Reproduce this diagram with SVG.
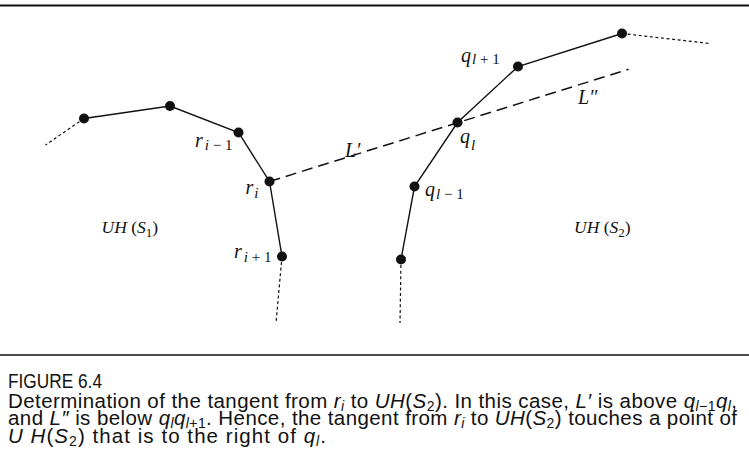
<svg xmlns="http://www.w3.org/2000/svg" width="749" height="465" viewBox="0 0 749 465">
<style>
.rule{stroke:#111;fill:none}
.edge{stroke:#111;stroke-width:1.4;fill:none;stroke-linecap:round}
.ext{stroke:#111;stroke-width:1.2;fill:none;stroke-dasharray:3 2.6}
.tan{stroke:#111;stroke-width:1.5;fill:none;stroke-dasharray:11 6}
.node{fill:#111}
.lbl{font-family:"Liberation Serif","Times New Roman",serif;font-style:italic;font-size:20px;fill:#111}
.lsub{font-size:15px}
.rm{font-style:normal}
.reg{font-family:"Liberation Serif","Times New Roman",serif;font-size:17.5px;fill:#111}
.it{font-style:italic}
.cap{font-family:"Liberation Sans",Arial,sans-serif;font-size:20.5px;fill:#111}
.ci{font-style:italic}
.cs{font-size:14px}
</style>
<rect width="749" height="465" fill="#fff"/>
<line class="rule" x1="0" y1="5.5" x2="749" y2="5.5" stroke-width="2"/>
<line class="rule" x1="0" y1="355" x2="749" y2="355" stroke-width="1.5"/>
<g id="connectors">
<polyline class="edge" points="84,118.5 170,106 238.5,132.5 269.5,181.5 282,256.5"/>
<polyline class="edge" points="401,259.5 414.5,186.5 457.5,122.5 518,66.5 622,33.5"/>
<line class="ext" x1="84" y1="118.5" x2="45.5" y2="145"/>
<line class="ext" x1="282" y1="256.5" x2="276" y2="323"/>
<line class="ext" x1="401" y1="259.5" x2="400" y2="323"/>
<line class="ext" x1="622" y1="33.5" x2="710" y2="43.5"/>
<line class="tan" x1="269.5" y1="181.5" x2="628.5" y2="69.3"/>
</g>
<g id="n-left-end"><circle class="node" cx="84" cy="118.5" r="5"/></g>
<g id="n-left-top"><circle class="node" cx="170" cy="106" r="5"/></g>
<g id="n-r-im1"><circle class="node" cx="238.5" cy="132.5" r="5"/><text class="lbl" x="195" y="146.5">r<tspan class="lsub" dx="2" dy="3">i <tspan class="rm">− 1</tspan></tspan></text></g>
<g id="n-r-i"><circle class="node" cx="269.5" cy="181.5" r="5"/><text class="lbl" x="245.5" y="194">r<tspan class="lsub" dx="1" dy="4">i</tspan></text></g>
<g id="n-r-ip1"><circle class="node" cx="282" cy="256.5" r="5"/><text class="lbl" x="234" y="258">r<tspan class="lsub" dx="2" dy="4">i <tspan class="rm">+ 1</tspan></tspan></text></g>
<g id="n-right-bottom"><circle class="node" cx="401" cy="259.5" r="5"/></g>
<g id="n-q-lm1"><circle class="node" cx="414.5" cy="186.5" r="5"/><text class="lbl" x="425" y="195.5">q<tspan class="lsub" dx="1" dy="3">l <tspan class="rm">− 1</tspan></tspan></text></g>
<g id="n-q-l"><circle class="node" cx="457.5" cy="122.5" r="5"/><text class="lbl" x="460" y="142.5">q<tspan class="lsub" dx="1" dy="7">l</tspan></text></g>
<g id="n-q-lp1"><circle class="node" cx="518" cy="66.5" r="5"/><text class="lbl" x="461" y="62">q<tspan class="lsub" dx="1" dy="2">l <tspan class="rm">+ 1</tspan></tspan></text></g>
<g id="n-right-top"><circle class="node" cx="622" cy="33.5" r="5"/></g>
<g id="labels">
<text class="lbl" x="345" y="156.5" font-size="19">L′</text>
<text class="lbl" x="578" y="103.5" font-size="18">L″</text>
<text class="reg" x="101.5" y="233"><tspan class="it">UH</tspan> (<tspan class="it">S</tspan><tspan font-size="13" dy="4">1</tspan><tspan dy="-4">)</tspan></text>
<text class="reg" x="574" y="233"><tspan class="it">UH</tspan> (<tspan class="it">S</tspan><tspan font-size="13" dy="4">2</tspan><tspan dy="-4">)</tspan></text>
</g>
<g id="caption">
<text class="cap" x="8" y="388" textLength="94" lengthAdjust="spacingAndGlyphs">FIGURE 6.4</text>
<text class="cap" x="8" y="407.5" textLength="729" lengthAdjust="spacing">Determination of the tangent from <tspan class="ci">r</tspan><tspan class="cs ci" dy="3">i</tspan><tspan dy="-3"> to </tspan><tspan class="ci">UH</tspan>(<tspan class="ci">S</tspan><tspan class="cs" dy="3">2</tspan><tspan dy="-3">). In this case, </tspan><tspan class="ci">L′</tspan> is above <tspan class="ci">q</tspan><tspan class="cs ci" dy="3">l</tspan><tspan class="cs">−1</tspan><tspan class="ci" dy="-3">q</tspan><tspan class="cs ci" dy="3">l</tspan><tspan dy="-3">,</tspan></text>
<text class="cap" x="8" y="425" textLength="729" lengthAdjust="spacing">and <tspan class="ci">L″</tspan> is below <tspan class="ci">q</tspan><tspan class="cs ci" dy="3">l</tspan><tspan class="ci" dy="-3">q</tspan><tspan class="cs ci" dy="3">l</tspan><tspan class="cs">+1</tspan><tspan dy="-3">. Hence, the tangent from </tspan><tspan class="ci">r</tspan><tspan class="cs ci" dy="3">i</tspan><tspan dy="-3"> to </tspan><tspan class="ci">UH</tspan>(<tspan class="ci">S</tspan><tspan class="cs" dy="3">2</tspan><tspan dy="-3">) touches a point of</tspan></text>
<text class="cap" x="8" y="442.5" textLength="318" lengthAdjust="spacing"><tspan class="ci">U H</tspan>(<tspan class="ci">S</tspan><tspan class="cs" dy="3">2</tspan><tspan dy="-3">) that is to the right of </tspan><tspan class="ci">q</tspan><tspan class="cs ci" dy="3">l</tspan><tspan dy="-3">.</tspan></text>
</g>
</svg>
